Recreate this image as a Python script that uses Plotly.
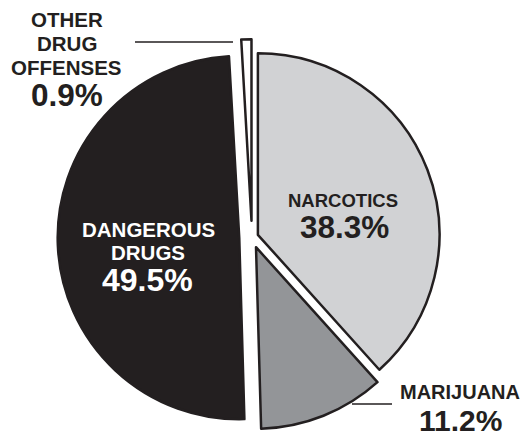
import plotly.graph_objects as go

categories = ["NARCOTICS", "MARIJUANA", "DANGEROUS<br>DRUGS", "OTHER<br>DRUG<br>OFFENSES"]
values = [38.3, 11.2, 49.5, 0.9]
colors = ["#d1d2d4", "#939598", "#231f20", "#ffffff"]
pulls = [0.035, 0.06, 0.07, 0.09]

W, H = 526, 435

fig = go.Figure(go.Pie(
    labels=categories,
    values=values,
    sort=False,
    direction="clockwise",
    rotation=0,
    pull=pulls,
    marker=dict(colors=colors, line=dict(color="#231f20", width=2.5)),
    textinfo="none",
    hoverinfo="label+percent",
    domain=dict(x=[0.009, 0.949], y=[0.0, 0.91]),
    showlegend=False,
))

FONT = "Liberation Sans, Arial, sans-serif"

# label placements: pixel centers for each name line, then value text
name_x = [343, 460, 148, 66.5]
name_ys = [[200], [392], [229, 252], [20, 43, 67]]
val_pos = [(344, 227), (460.5, 420), (147, 280), (67, 95)]
txt_col = ["#231f20", "#231f20", "#ffffff", "#231f20"]
name_size = [18.5, 20, 20.5, 20.5]
val_size = [31.5, 30, 32, 31.5]

ann = []
for i in range(len(categories)):
    lines = categories[i].split("<br>")
    for ln, ly in zip(lines, name_ys[i]):
        ann.append(dict(
            x=name_x[i] / W, y=1 - ly / H, xref="paper", yref="paper",
            text="<b>" + ln + "</b>", showarrow=False,
            font=dict(family=FONT, size=name_size[i], color=txt_col[i]),
            xanchor="center", yanchor="middle",
        ))
    vx, vy = val_pos[i]
    ann.append(dict(
        x=vx / W, y=1 - vy / H, xref="paper", yref="paper",
        text="<b>%.1f%%</b>" % values[i], showarrow=False,
        font=dict(family=FONT, size=val_size[i], color=txt_col[i]),
        xanchor="center", yanchor="middle",
    ))

shapes = [
    dict(type="line", xref="paper", yref="paper",
         x0=135 / W, x1=233 / W, y0=1 - 42 / H, y1=1 - 42 / H,
         line=dict(color="#231f20", width=1.5)),
    dict(type="line", xref="paper", yref="paper",
         x0=352 / W, x1=392 / W, y0=1 - 404 / H, y1=1 - 404 / H,
         line=dict(color="#231f20", width=1.5)),
]

fig.update_layout(
    width=W, height=H,
    margin=dict(l=0, r=0, t=0, b=0),
    paper_bgcolor="white",
    plot_bgcolor="white",
    annotations=ann,
    shapes=shapes,
)

fig.write_html(
    "out.html",
    config={"displayModeBar": False},
    post_script="document.body.style.margin='0';document.body.style.overflow='hidden';",
)
